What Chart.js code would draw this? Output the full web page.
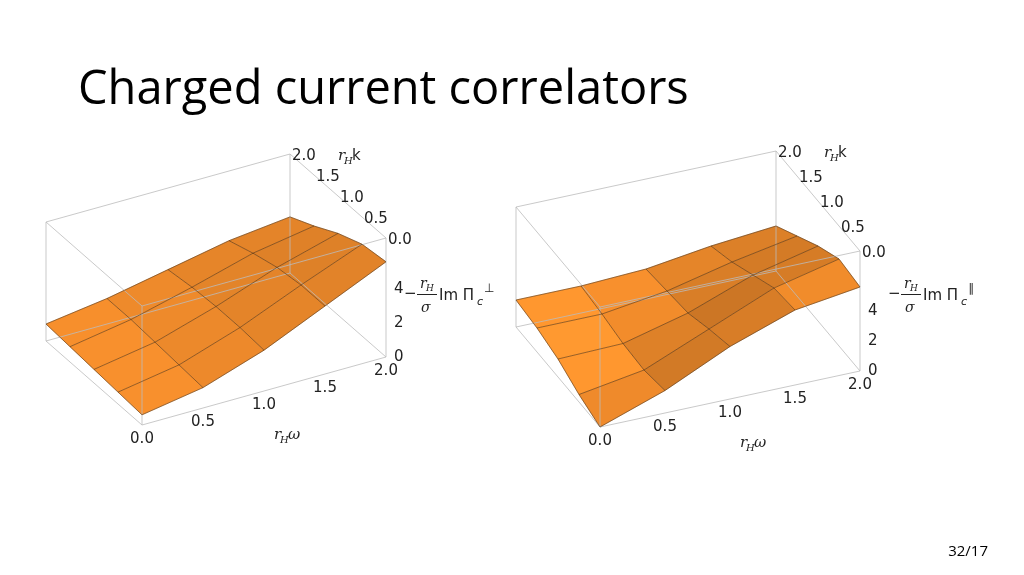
<!DOCTYPE html>
<html>
<head>
<meta charset="utf-8">
<script src="https://cdn.jsdelivr.net/npm/chart.js@4"></script>
<style>
  body { margin: 0; background: #fff; font-family: "Open Sans", "Noto Sans", sans-serif; }
  #wrap { position: relative; width: 1024px; height: 575px; }
  #title { position: absolute; left: 78px; top: 54px; font-size: 47px; color: #000; }
  #page { position: absolute; right: 36px; top: 540px; font-size: 15px; color: #000; }
  canvas { position: absolute; left: 0; top: 0; }
</style>
</head>
<body>
<div id="wrap">
  <canvas id="c" width="1024" height="575"></canvas>
  <div id="title">Charged current correlators</div>
  <div id="page">32/17</div>
</div>
<script>
// 网格坐标 (rHω, rHk)
const omegaVals = [0, 0.5, 1.0, 1.5, 2.0];
const kVals = [0, 0.5, 1.0, 1.5, 2.0];
const tickLabels = ['0.0', '0.5', '1.0', '1.5', '2.0'];
const zTicks = ['0', '2', '4'];
// 曲面高度 z[k][ω]
const perpValues = [
  [0.6, 1.2, 2.4, 4.0, 5.6],
  [0.7, 1.3, 2.5, 4.0, 5.4],
  [0.8, 1.4, 2.5, 3.8, 4.8],
  [0.9, 1.5, 2.4, 3.4, 4.0],
  [1.0, 1.5, 2.2, 2.9, 3.3]
];
const parValues = [
  [0.0, 1.5, 3.5, 5.0, 5.6],
  [0.5, 1.2, 3.0, 4.8, 5.8],
  [1.2, 1.3, 2.4, 4.0, 5.0],
  [1.6, 1.6, 2.2, 3.2, 4.0],
  [1.8, 1.8, 2.0, 2.6, 3.0]
];

// 投影参数 (画面布局)
const views = [
  { values: perpValues, o: [142, 425], w: [122, -34], k: [-48, -42], z: -17, zTop: 7, sym: '⊥', lab: [404, 298] },
  { values: parValues, o: [600, 427], w: [130, -28], k: [-42, -50], z: -15, zTop: 8, sym: '∥', lab: [888, 298] }
];
function proj(v, w, k, z) {
  return { x: v.o[0] + v.w[0] * w + v.k[0] * k, y: v.o[1] + v.w[1] * w + v.k[1] * k + v.z * z };
}

const datasets = [];
views.forEach(v => {
  // 盒子边框
  const c = [[0,0],[2,0],[2,2],[0,2]];
  const edges = [];
  for (let i = 0; i < 4; i++) {
    const a = c[i], b = c[(i + 1) % 4];
    edges.push([proj(v, a[0], a[1], 0), proj(v, b[0], b[1], 0)]);
    edges.push([proj(v, a[0], a[1], v.zTop), proj(v, b[0], b[1], v.zTop)]);
    edges.push([proj(v, a[0], a[1], 0), proj(v, a[0], a[1], v.zTop)]);
  }
  edges.forEach(e => datasets.push({ type: 'line', data: e, borderColor: '#bbb', borderWidth: 0.8, pointRadius: 0, order: 3 }));
  // 网格线
  kVals.forEach((k, i) => datasets.push({
    type: 'line', data: omegaVals.map((w, j) => proj(v, w, k, v.values[i][j])),
    borderColor: 'rgba(70,45,20,0.7)', borderWidth: 0.8, pointRadius: 0, order: 1
  }));
  omegaVals.forEach((w, j) => datasets.push({
    type: 'line', data: kVals.map((k, i) => proj(v, w, k, v.values[i][j])),
    borderColor: 'rgba(70,45,20,0.7)', borderWidth: 0.8, pointRadius: 0, order: 1
  }));
});

const surfacePlugin = {
  id: 'surface',
  beforeDatasetsDraw(chart) {
    const ctx = chart.ctx, xs = chart.scales.x, ys = chart.scales.y;
    const px = p => [xs.getPixelForValue(p.x), ys.getPixelForValue(p.y)];
    views.forEach(v => {
      for (let i = kVals.length - 2; i >= 0; i--) {
        for (let j = 0; j < omegaVals.length - 1; j++) {
          const pts = [[i, j], [i, j + 1], [i + 1, j + 1], [i + 1, j]].map(([a, b]) =>
            px(proj(v, omegaVals[b], kVals[a], v.values[a][b])));
          const dz = (v.values[i][j + 1] + v.values[i + 1][j + 1]) - (v.values[i][j] + v.values[i + 1][j]);
          const dk = (v.values[i + 1][j] + v.values[i + 1][j + 1]) - (v.values[i][j] + v.values[i][j + 1]);
          const f = Math.max(0.55, Math.min(1.1, 1.02 - 0.035 * dz + 0.06 * dk));
          ctx.fillStyle = `rgb(${Math.min(255, 250 * f)},${Math.min(190, 145 * f)},${Math.min(80, 45 * f)})`;
          ctx.beginPath();
          pts.forEach((p, n) => n ? ctx.lineTo(p[0], p[1]) : ctx.moveTo(p[0], p[1]));
          ctx.closePath();
          ctx.fill();
          ctx.strokeStyle = ctx.fillStyle;
          ctx.lineWidth = 0.5;
          ctx.stroke();
        }
      }
    });
  },
  afterDatasetsDraw(chart) {
    const ctx = chart.ctx, xs = chart.scales.x, ys = chart.scales.y;
    ctx.save();
    ctx.fillStyle = '#222';
    views.forEach(v => {
      ctx.font = '15px "DejaVu Sans", sans-serif';
      ctx.textAlign = 'center';
      omegaVals.forEach((w, j) => {
        const p = proj(v, w, 0, 0);
        ctx.fillText(tickLabels[j], xs.getPixelForValue(p.x), ys.getPixelForValue(p.y) + 18);
      });
      ctx.textAlign = 'left';
      kVals.forEach((k, i) => {
        const p = proj(v, 2, k, v.zTop);
        ctx.fillText(tickLabels[i], xs.getPixelForValue(p.x) + 2, ys.getPixelForValue(p.y) + 6);
      });
      zTicks.forEach((t, n) => {
        const p = proj(v, 2, 0, n * 2);
        ctx.fillText(t, xs.getPixelForValue(p.x) + 8, ys.getPixelForValue(p.y) + 4);
      });
      // 坐标轴名称
      const pw = proj(v, 1, 0, 0), pk = proj(v, 2, 2, v.zTop);
      ctx.font = 'italic 15px "DejaVu Serif", serif';
      ctx.fillText('r', pw.x + 10, pw.y + 48);
      ctx.font = 'italic 10px "DejaVu Serif", serif';
      ctx.fillText('H', pw.x + 16, pw.y + 52);
      ctx.font = 'italic 15px "DejaVu Serif", serif';
      ctx.fillText('ω', pw.x + 24, pw.y + 48);
      ctx.fillText('r', pk.x + 48, pk.y + 6);
      ctx.font = 'italic 10px "DejaVu Serif", serif';
      ctx.fillText('H', pk.x + 54, pk.y + 10);
      ctx.font = '15px "DejaVu Sans", sans-serif';
      ctx.fillText('k', pk.x + 62, pk.y + 6);
      const [lx, ly] = v.lab;
      ctx.fillText('−', lx, ly);
      ctx.font = 'italic 14px "DejaVu Serif", serif';
      ctx.fillText('r', lx + 16, ly - 10);
      ctx.font = 'italic 9px "DejaVu Serif", serif';
      ctx.fillText('H', lx + 22, ly - 7);
      ctx.fillRect(lx + 13, ly - 4, 20, 1);
      ctx.font = 'italic 14px "DejaVu Serif", serif';
      ctx.fillText('σ', lx + 17, ly + 14);
      ctx.font = '15px "DejaVu Sans", sans-serif';
      ctx.fillText('Im Π', lx + 35, ly + 2);
      ctx.font = 'italic 11px "DejaVu Sans", sans-serif';
      ctx.fillText('c', lx + 73, ly + 7);
      ctx.font = '12px "DejaVu Sans", sans-serif';
      ctx.fillText(v.sym, lx + 80, ly - 6);
    });
    ctx.restore();
  }
};

new Chart(document.getElementById('c'), {
  type: 'scatter',
  data: { datasets },
  options: {
    responsive: false,
    animation: false,
    events: [],
    layout: { padding: 0 },
    plugins: { legend: { display: false }, tooltip: { enabled: false } },
    scales: {
      x: { type: 'linear', min: 0, max: 1024, display: false },
      y: { type: 'linear', min: 0, max: 575, reverse: true, display: false }
    }
  },
  plugins: [surfacePlugin]
});
</script>
</body>
</html>
